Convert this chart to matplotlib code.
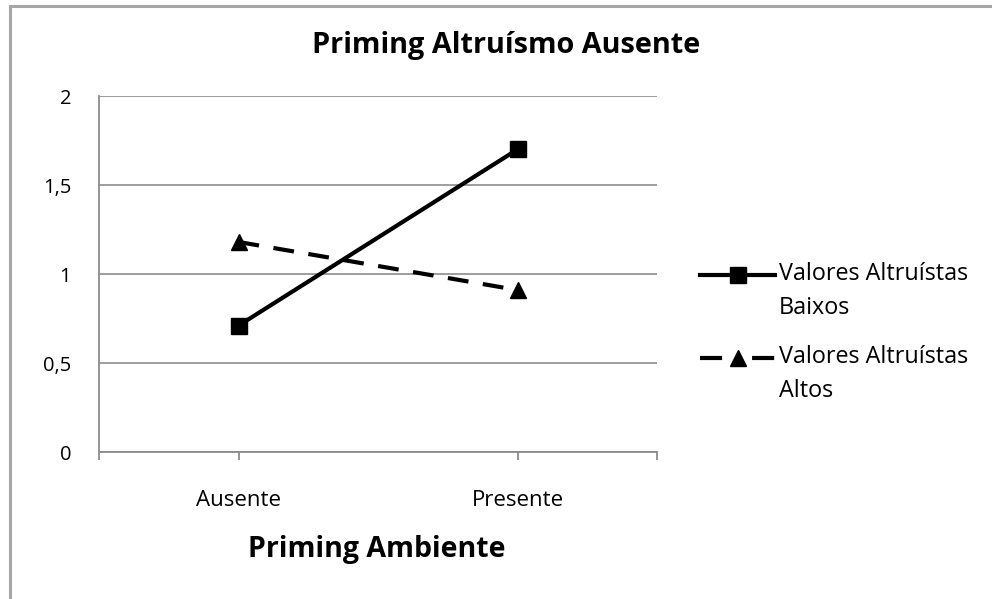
import matplotlib.pyplot as plt
from matplotlib.lines import Line2D

plt.rcParams['font.family'] = ['Open Sans', 'DejaVu Sans']

categories = ['Ausente', 'Presente']
baixos = [0.71, 1.70]
altos = [1.18, 0.91]
series_labels = ['Valores Altruístas\nBaixos', 'Valores Altruístas\nAltos']
yticks = [0, 0.5, 1, 1.5, 2]
ytick_labels = ['0', '0,5', '1', '1,5', '2']

W, H = 992, 599
fig = plt.figure(figsize=(W / 100, H / 100), dpi=100)
px = lambda x, y: (x / W, 1 - y / H)  # pixel position -> figure fraction

# outer chart frame (only top and left edges are visible)
fig.add_artist(Line2D([10 / W, 10 / W], [0, 1 - 6 / H], color='#a6a6a6', lw=2.2,
                      transform=fig.transFigure))
fig.add_artist(Line2D([10 / W, 1], [1 - 6 / H, 1 - 6 / H], color='#a6a6a6', lw=2.2,
                      transform=fig.transFigure))

ax = fig.add_axes([99 / W, 1 - 452 / H, (657 - 99) / W, (452 - 96) / H])

x = list(range(len(categories)))
styles = [dict(ls='-', marker='s', markersize=11),
          dict(ls=(0, (5, 3.5)), marker='^', markersize=11)]
for vals, st in zip([baixos, altos], styles):
    ax.plot(x, vals, color='black', lw=3, **st)

ax.set_xlim(-0.5, 1.5)
ax.set_ylim(0, 2)
ax.set_yticks(yticks)
ax.set_yticklabels(ytick_labels, fontsize=14.5)
ax.set_xticks([-0.5, 0, 1, 1.5])
ax.set_xticklabels(['', categories[0], categories[1], ''], fontsize=16)
ax.tick_params(axis='x', length=6, color='#8c8c8c', width=1.3, pad=21)
ax.tick_params(axis='y', length=0, pad=20)

ax.grid(axis='y', color='#8c8c8c', lw=1.2)
ax.set_axisbelow(True)
for side in ['top', 'right']:
    ax.spines[side].set_visible(False)
for side in ['left', 'bottom']:
    ax.spines[side].set_color('#8c8c8c')
    ax.spines[side].set_linewidth(1.3)

fig.text(*px(506, 46), 'Priming Altruísmo Ausente', ha='center', va='center',
         fontsize=20.8, fontweight='bold')
fig.text(*px(377, 550), 'Priming Ambiente', ha='center', va='center',
         fontsize=20.5, fontweight='bold')

# legend drawn by hand: handle on the first line of each two-line label
legend_styles = [dict(styles[0]), dict(styles[1], ls=(0, (5.3, 7.2)))]
for (ly, label, st) in zip([275, 358], series_labels, legend_styles):
    hx0, hy = px(700, ly)
    hx1, _ = px(775, ly)
    fig.add_artist(Line2D([hx0, (hx0 + hx1) / 2, hx1], [hy, hy, hy], color='black', lw=3,
                          markevery=[1], transform=fig.transFigure, **st))
    fig.text(*px(779, ly - 13), label, ha='left', va='top', fontsize=16.8,
             linespacing=1.55)

fig.savefig('out.png', dpi=100)
